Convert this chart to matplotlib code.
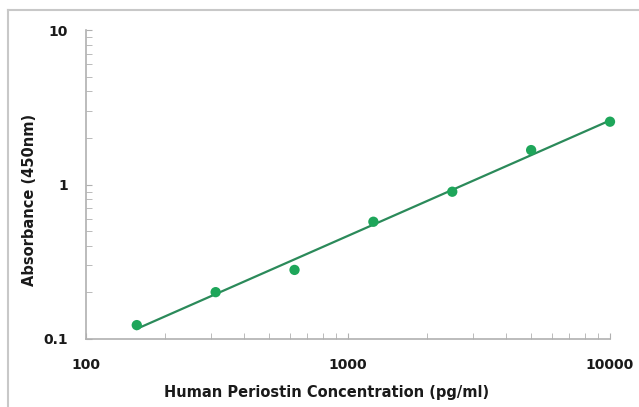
import numpy as np
import matplotlib
matplotlib.use("Agg")
import matplotlib.pyplot as plt
from matplotlib.lines import Line2D

concentration = [156.25, 312.5, 625, 1250, 2500, 5000, 10000]
absorbance = [0.123, 0.201, 0.280, 0.574, 0.898, 1.67, 2.55]
x_ticks = [100, 1000, 10000]
x_tick_labels = ["100", "1000", "10000"]
y_ticks = [0.1, 1, 10]
y_tick_labels = ["0.1", "1", "10"]

plt.rcParams['font.family'] = ['DejaVu Sans']

fig = plt.figure(figsize=(6.39, 4.07), dpi=100)
ax = fig.add_axes([86/639, 1-339/407, (610-86)/639, (339-30)/407])

# frame around the figure (left and top edges visible)
fig.add_artist(Line2D([8/639, 8/639], [0, 1-10/407], transform=fig.transFigure, color='#c8c8c8', lw=1.5))
fig.add_artist(Line2D([8/639, 1], [1-10/407, 1-10/407], transform=fig.transFigure, color='#c8c8c8', lw=1.5))

# power-law trendline
lx = np.log10(concentration)
ly = np.log10(absorbance)
b, a = np.polyfit(lx, ly, 1)
xf = np.array([concentration[0], concentration[-1]])
ax.plot(xf, 10**(a + b*np.log10(xf)), color='#2b8a5a', lw=1.6, zorder=2)
ax.scatter(concentration, absorbance, s=55, color='#1ea65a', zorder=3, edgecolors='none', clip_on=False)

ax.set_xscale('log')
ax.set_yscale('log')
ax.set_xlim(100, 10000)
ax.set_ylim(0.1, 10)

for s in ['top', 'right']:
    ax.spines[s].set_visible(False)
for s in ['left', 'bottom']:
    ax.spines[s].set_color('#b0b0b0')
    ax.spines[s].set_linewidth(1.2)

ax.set_xticks(x_ticks)
ax.set_xticklabels(x_tick_labels)
ax.set_yticks(y_ticks)
ax.set_yticklabels(y_tick_labels)
ax.tick_params(axis='both', which='both', direction='in', color='#b0b0b0', length=4)
ax.tick_params(axis='x', which='major', pad=14, labelsize=10)
ax.tick_params(axis='y', which='major', pad=13, labelsize=10)
for lbl in ax.get_xticklabels() + ax.get_yticklabels():
    lbl.set_fontweight('bold')
    lbl.set_color('#1a1a1a')
ax.yaxis.set_minor_formatter(matplotlib.ticker.NullFormatter())
ax.xaxis.set_minor_formatter(matplotlib.ticker.NullFormatter())

ax.set_xlabel("Human Periostin Concentration (pg/ml)", fontsize=10.5, fontweight='bold', color='#1a1a1a')
ax.set_ylabel("Absorbance (450nm)", fontsize=10.5, fontweight='bold', color='#1a1a1a')
ax.xaxis.set_label_coords((327-86)/524, (339-393)/309)
ax.xaxis.label.set_va('center')
ax.yaxis.set_label_coords((30-86)/524, (339-200)/309)
ax.yaxis.label.set_va('center')

fig.savefig("out.png", dpi=100)
